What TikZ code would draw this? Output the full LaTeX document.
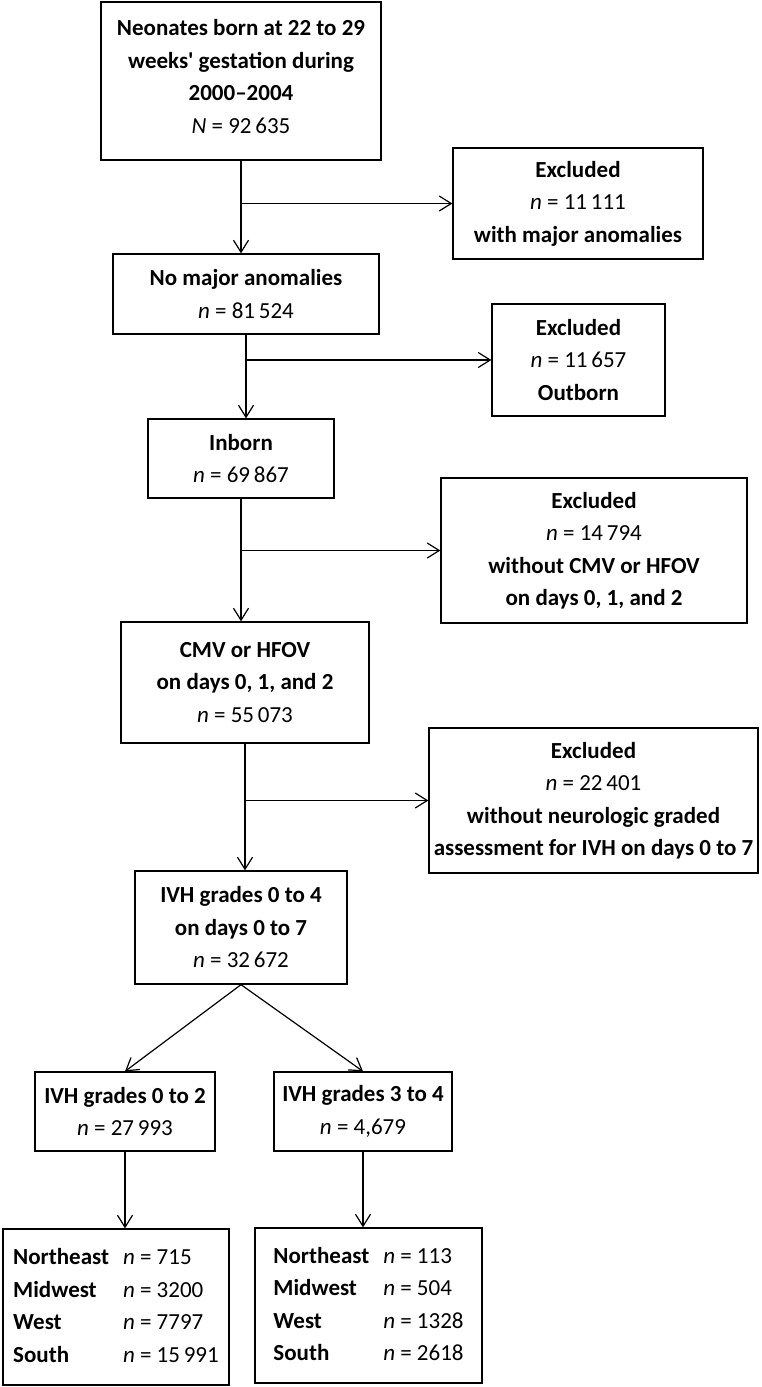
\documentclass[tikz,border=0pt]{standalone}
\usepackage{fontspec}
\setmainfont{Carlito}[Ligatures=TeXOff]
\usetikzlibrary{arrows.meta}
\begin{document}
\begin{tikzpicture}[x=1pt,y=-1pt,
  box/.style={draw, line width=1.3pt, inner sep=0pt, align=center,
    font=\fontsize{23}{32.5}\selectfont},
  arr/.style={line width=1.2pt, -{Straight Barb[length=12pt,width=15pt,line width=1.2pt]}}]
\useasboundingbox (0,0) rectangle (762,1387);

\node[box, minimum width=280pt, minimum height=158pt] (b1) at (241,81)
  {\textbf{Neonates born at 22 to 29}\\\textbf{weeks' gestation during}\\\textbf{2000–2004}\\\textit{N} = 92\,635\rule[-9pt]{0pt}{9pt}};
\node[box, minimum width=250pt, minimum height=111pt] (e1) at (578,203.5)
  {\textbf{Excluded}\\\textit{n} = 11\,111\\\textbf{with major anomalies}};
\node[box, minimum width=266pt, minimum height=80pt] (b2) at (246,294)
  {\textbf{No major anomalies}\\\textit{n} = 81\,524};
\node[box, minimum width=173pt, minimum height=112pt] (e2) at (578.5,360)
  {\textbf{Excluded}\\\textit{n} = 11\,657\\\textbf{Outborn}};
\node[box, minimum width=186pt, minimum height=79pt] (b3) at (241,458.5)
  {\textbf{Inborn}\\\textit{n} = 69\,867};
\node[box, minimum width=306pt, minimum height=145pt] (e3) at (594,550.5)
  {\textbf{Excluded}\\\textit{n} = 14\,794\\\textbf{without CMV or HFOV}\\\textbf{on days 0, 1, and 2}};
\node[box, minimum width=248pt, minimum height=121pt] (b4) at (245,682.5)
  {\textbf{CMV or HFOV}\\\textbf{on days 0, 1, and 2}\\\textit{n} = 55\,073};
\node[box, minimum width=329pt, minimum height=145pt] (e4) at (593.5,800.5)
  {\textbf{Excluded}\\\textit{n} = 22\,401\\\textbf{without neurologic graded}\\\textbf{assessment for IVH on days 0 to 7}};
\node[box, minimum width=212pt, minimum height=113pt] (b5) at (241,927.5)
  {\textbf{IVH grades 0 to 4}\\\textbf{on days 0 to 7}\\\textit{n} = 32\,672};
\node[box, minimum width=180pt, minimum height=79pt] (l) at (125,1111.5)
  {\textbf{IVH grades 0 to 2}\\\textit{n} = 27\,993};
\node[box, minimum width=178pt, minimum height=79pt] (r) at (363,1111.5)
  {\textbf{IVH grades 3 to 4}\\\textit{n} = 4,679};
\node[box, minimum width=226pt, minimum height=156pt] (bl) at (116,1307)
  {\begin{tabular}{@{}l@{\hspace{14pt}}l@{}}
   \textbf{Northeast} & \textit{n} = 715\\
   \textbf{Midwest} & \textit{n} = 3200\\
   \textbf{West} & \textit{n} = 7797\\
   \textbf{South} & \textit{n} = 15\,991
   \end{tabular}};
\node[box, minimum width=227pt, minimum height=155pt] (br) at (368.5,1305.5)
  {\begin{tabular}{@{}l@{\hspace{14pt}}l@{}}
   \textbf{Northeast} & \textit{n} = 113\\
   \textbf{Midwest} & \textit{n} = 504\\
   \textbf{West} & \textit{n} = 1328\\
   \textbf{South} & \textit{n} = 2618
   \end{tabular}};

\draw[arr] (b1.south) -- (b1.south |- b2.north);
\coordinate (j1) at (b1.south |- e1.west);
\draw[arr] (j1) -- (e1.west);
\draw[arr] (b2.south) -- (b2.south |- b3.north);
\coordinate (j2) at (b2.south |- e2.west);
\draw[arr] (j2) -- (e2.west);
\draw[arr] (b3.south) -- (b3.south |- b4.north);
\coordinate (j3) at (b3.south |- e3.west);
\draw[arr] (j3) -- (e3.west);
\draw[arr] (b4.south) -- (b4.south |- b5.north);
\coordinate (j4) at (b4.south |- e4.west);
\draw[arr] (j4) -- (e4.west);
\draw[arr] (b5.south) -- (l.north);
\draw[arr] (b5.south) -- (r.north);
\draw[arr] (l.south) -- (l.south |- bl.north);
\draw[arr] (r.south) -- (r.south |- br.north);
\end{tikzpicture}
\end{document}
